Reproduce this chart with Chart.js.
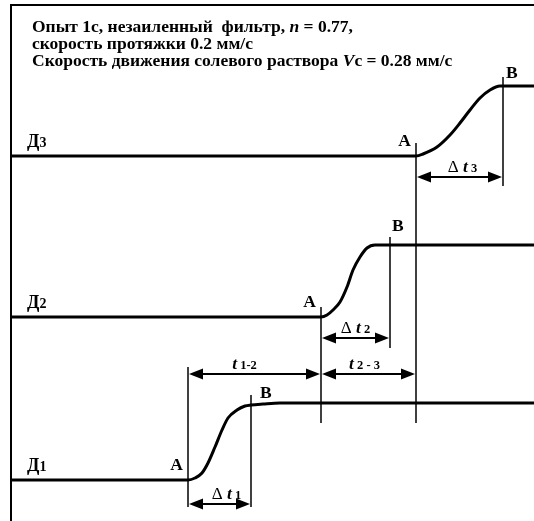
<!DOCTYPE html>
<html>
<head>
<meta charset="utf-8">
<script src="https://cdn.jsdelivr.net/npm/chart.js@4.4.1/dist/chart.umd.min.js"></script>
<style>
  body { margin: 0; background: #fff; }
  canvas { display: block; }
</style>
</head>
<body>
<canvas id="sensorChart" width="534" height="521"></canvas>
<script>
// signal traces of the three sensors (time, level)
const d1Time = [0, 177, 184, 191, 197, 204, 211, 217, 226, 234, 240, 252, 269, 523];
const d1Level = [41, 41, 43, 48, 58, 74, 91, 103, 111, 115, 116, 117, 118, 118];
const d2Time = [0, 310, 316, 322, 329, 336, 342, 349, 356, 364, 523];
const d2Level = [204, 204, 206, 211, 219, 234, 251, 264, 273, 276, 276];
const d3Time = [0, 405, 412, 426, 439, 449, 459, 469, 479, 489, 523];
const d3Level = [365, 365, 367, 374, 386, 398, 411, 423, 431, 435, 435];

const sensorNames = ['1', '2', '3'];
const baseLevel = [41, 204, 365];

// vertical marker lines: A1 B1 A2 B2 A3 B3
const markerName = ['A', 'B', 'A', 'B', 'A', 'B'];
const markerTime = [177, 240, 310, 379, 405, 492];
const markerLow = [14, 14, 98, 173, 98, 335];
const markerHigh = [154, 126, 214, 284, 378, 444];

// dimension arrows
const arrowSub = ['1', '2', '3', '1-2', '2 - 3'];
const arrowDelta = [true, true, true, false, false];
const arrowFrom = [177, 310, 405, 177, 310];
const arrowTo = [240, 379, 492, 310, 405];
const arrowLevel = [17, 183, 344, 147, 147];

const titleLines = [
  [['Опыт 1с, незаиленный  фильтр, ', 'b'], ['n', 'bi'], [' = 0.77,', 'b']],
  [['скорость протяжки 0.2 мм/с', 'b']],
  [['Скорость движения солевого раствора ', 'b'], ['V', 'bi'], ['c = 0.28 мм/с', 'b']]
];

const FONTS = {
  b: 'bold 17.5px "Liberation Serif"',
  bi: 'italic bold 17.5px "Liberation Serif"',
  r: '17px "Liberation Serif"',
  s: 'bold 12.5px "Liberation Serif"',
  d: 'bold 18px "Liberation Serif"',
  ds: 'bold 14px "Liberation Serif"'
};

function pts(xs, ys) {
  return xs.map((x, i) => ({ x: x, y: ys[i] }));
}

const datasets = [];
[[d1Time, d1Level], [d2Time, d2Level], [d3Time, d3Level]].forEach(c => {
  datasets.push({
    data: pts(c[0], c[1]),
    borderColor: '#000',
    borderWidth: 3,
    pointRadius: 0,
    cubicInterpolationMode: 'monotone',
    fill: false
  });
});
markerTime.forEach((t, i) => {
  datasets.push({
    data: [{ x: t, y: markerLow[i] }, { x: t, y: markerHigh[i] }],
    borderColor: '#000',
    borderWidth: 1.5,
    pointRadius: 0,
    tension: 0
  });
});
arrowFrom.forEach((t, i) => {
  datasets.push({
    data: [{ x: t + 4, y: arrowLevel[i] }, { x: arrowTo[i] - 4, y: arrowLevel[i] }],
    borderColor: '#000',
    borderWidth: 2,
    pointRadius: 0,
    tension: 0
  });
});

function drawParts(ctx, x, y, parts, align) {
  let w = 0;
  parts.forEach(p => { ctx.font = FONTS[p[1]]; w += ctx.measureText(p[0]).width; });
  let cx = align === 'center' ? x - w / 2 : align === 'right' ? x - w : x;
  parts.forEach(p => {
    ctx.font = FONTS[p[1]];
    ctx.fillText(p[0], cx, y);
    cx += ctx.measureText(p[0]).width;
  });
}

const bShift = [[9, 3], [2, -6], [3, 1]];
const arrowShift = [7, 0, 3, -10, -4];

const decor = {
  id: 'decor',
  afterDatasetsDraw(chart) {
    const ctx = chart.ctx;
    const xs = chart.scales.x, ys = chart.scales.y;
    const a = chart.chartArea;
    ctx.save();
    // frame
    ctx.strokeStyle = '#000';
    ctx.lineWidth = 2;
    ctx.beginPath();
    ctx.moveTo(a.left, chart.height);
    ctx.lineTo(a.left, a.top);
    ctx.lineTo(chart.width, a.top);
    ctx.stroke();

    ctx.fillStyle = '#000';
    ctx.textBaseline = 'alphabetic';
    // arrow heads and their labels
    arrowFrom.forEach((t, i) => {
      const y = ys.getPixelForValue(arrowLevel[i]);
      [[xs.getPixelForValue(t) + 1, 1], [xs.getPixelForValue(arrowTo[i]) - 1, -1]].forEach(h => {
        ctx.beginPath();
        ctx.moveTo(h[0], y);
        ctx.lineTo(h[0] + h[1] * 14, y - 5.5);
        ctx.lineTo(h[0] + h[1] * 14, y + 5.5);
        ctx.closePath();
        ctx.fill();
      });
      const mid = (xs.getPixelForValue(t) + xs.getPixelForValue(arrowTo[i])) / 2 + arrowShift[i];
      const parts = arrowDelta[i]
        ? [['Δ ', 'r'], ['t', 'bi'], [' ' + arrowSub[i], 's']]
        : [['t', 'bi'], [' ' + arrowSub[i], 's']];
      drawParts(ctx, mid, y - 5, parts, 'center');
    });

    // sensor names
    sensorNames.forEach((n, i) => {
      drawParts(ctx, xs.getPixelForValue(16), ys.getPixelForValue(baseLevel[i]) - 9,
        [['Д', 'd'], [n, 'ds']], 'left');
    });

    // A / B labels
    markerTime.forEach((t, i) => {
      const k = Math.floor(i / 2);
      const px = xs.getPixelForValue(t);
      ctx.font = FONTS.b;
      if (markerName[i] === 'A') {
        ctx.textAlign = 'right';
        ctx.fillText('A', px - 5, ys.getPixelForValue(baseLevel[k]) - 10);
      } else {
        ctx.textAlign = 'left';
        ctx.fillText('B', px + bShift[k][0], ys.getPixelForValue(markerHigh[i]) + bShift[k][1]);
      }
      ctx.textAlign = 'left';
    });

    // title
    titleLines.forEach((ln, i) => {
      drawParts(ctx, 32, 32 + i * 17.2, ln, 'left');
    });
    ctx.restore();
  }
};

new Chart(document.getElementById('sensorChart').getContext('2d'), {
  type: 'line',
  data: { datasets: datasets },
  options: {
    responsive: false,
    animation: false,
    devicePixelRatio: 1,
    layout: { padding: { left: 11, top: 5, right: 0, bottom: 0 } },
    plugins: { legend: { display: false }, tooltip: { enabled: false } },
    scales: {
      x: { type: 'linear', min: 0, max: 523, display: false },
      y: { type: 'linear', min: 0, max: 516, display: false }
    }
  },
  plugins: [decor]
});
</script>
</body>
</html>
